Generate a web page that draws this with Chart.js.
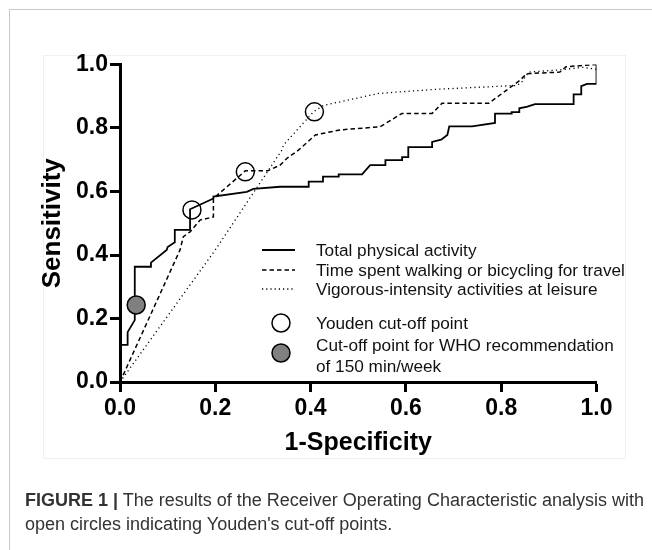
<!DOCTYPE html>
<html lang="en">

<head>
    <meta charset="UTF-8">
    <title>ROC curve</title>
    <style>
        body { margin: 0; background: #fff; font-family: "Liberation Sans", Arial, sans-serif; }
        #page { position: relative; width: 652px; height: 550px; overflow: hidden; }
        #frame { position: absolute; left: 9px; top: 9px; width: 660px; height: 560px; border-left: 1px solid #c8c8c8; border-top: 1px solid #c8c8c8; }
        #inner { position: absolute; left: 43px; top: 55px; width: 581px; height: 402px; border: 1px solid #f0f0f0; }
        #myChart01 { position: absolute; left: 0; top: 0; }
        .leg { position: absolute; left: 0; top: 0; width: 652px; height: 550px; pointer-events: none; }
        .leg .txt { position: absolute; left: 316px; font-size: 17.2px; color: #111; line-height: 20px; white-space: nowrap; }
        #caption { position: absolute; left: 25px; top: 488px; font-size: 18px; line-height: 24px; color: #333; white-space: nowrap; }
        #caption b { color: #333; }
    </style>
</head>

<body>
    <div id="page">
        <div id="frame"></div>
        <div id="inner"></div>
        <canvas id="myChart01" width="652" height="550"></canvas>
        <div class="leg">
            <svg width="652" height="550" style="position:absolute;left:0;top:0">
                <line x1="262" y1="250" x2="295" y2="250" stroke="#000" stroke-width="1.8"></line>
                <line x1="262" y1="270" x2="295" y2="270" stroke="#000" stroke-width="1.5" stroke-dasharray="4.5,3"></line>
                <line x1="262" y1="289" x2="295" y2="289" stroke="#000" stroke-width="1.3" stroke-dasharray="1.2,3"></line>
                <circle cx="281" cy="323" r="9" fill="#fff" stroke="#000" stroke-width="1.5"></circle>
                <circle cx="281" cy="353" r="9" fill="#808080" stroke="#000" stroke-width="1.5"></circle>
            </svg>
            <div class="txt" style="top:240px">Total physical activity</div>
            <div class="txt" style="top:260px">Time spent walking or bicycling for travel</div>
            <div class="txt" style="top:279px">Vigorous-intensity activities at leisure</div>
            <div class="txt" style="top:313px">Youden cut-off point</div>
            <div class="txt" style="top:335px">Cut-off point for WHO recommendation</div>
            <div class="txt" style="top:356px">of 150 min/week</div>
        </div>
        <div id="caption"><b>FIGURE 1 |</b> The results of the Receiver Operating Characteristic analysis with<br>open circles indicating Youden's cut-off points.</div>
    </div>
    <script src="https://cdn.jsdelivr.net/npm/chart.js"></script>
    <script>
        // 刻度
        var tickValues = [0, 0.2, 0.4, 0.6, 0.8, 1.0];

        // Total physical activity (實線)
        var totalX = [0, 0, 0.016, 0.016, 0.031, 0.031, 0.065, 0.065, 0.098, 0.1, 0.115, 0.115, 0.147, 0.147, 0.196, 0.196, 0.266, 0.28, 0.336, 0.396, 0.396, 0.426, 0.426, 0.459, 0.459, 0.508, 0.525, 0.557, 0.557, 0.592, 0.592, 0.605, 0.605, 0.655, 0.655, 0.674, 0.687, 0.691, 0.739, 0.787, 0.787, 0.822, 0.822, 0.838, 0.838, 0.855, 0.871, 0.952, 0.952, 0.968, 0.968, 0.98, 1.0, 1.0];
        var totalY = [0, 0.117, 0.117, 0.157, 0.195, 0.363, 0.363, 0.376, 0.416, 0.425, 0.44, 0.479, 0.479, 0.544, 0.578, 0.584, 0.599, 0.608, 0.615, 0.615, 0.631, 0.631, 0.647, 0.647, 0.654, 0.654, 0.683, 0.683, 0.699, 0.699, 0.708, 0.708, 0.74, 0.74, 0.756, 0.763, 0.778, 0.805, 0.805, 0.816, 0.845, 0.845, 0.85, 0.85, 0.862, 0.867, 0.875, 0.875, 0.906, 0.906, 0.932, 0.939, 0.939, 1.0];

        // Time spent walking or bicycling for travel (虛線)
        var walkX = [0, 0.126, 0.133, 0.147, 0.168, 0.196, 0.196, 0.263, 0.31, 0.336, 0.35, 0.375, 0.41, 0.462, 0.546, 0.592, 0.655, 0.676, 0.774, 0.84, 0.853, 0.923, 0.936, 1.0];
        var walkY = [0, 0.416, 0.458, 0.473, 0.51, 0.52, 0.578, 0.665, 0.665, 0.683, 0.704, 0.731, 0.778, 0.794, 0.804, 0.846, 0.846, 0.878, 0.878, 0.951, 0.971, 0.976, 0.993, 1.0];

        // Vigorous-intensity activities at leisure (點線)
        var vigX = [0, 0.2, 0.284, 0.34, 0.343, 0.406, 0.427, 0.543, 0.665, 0.833, 0.844, 0.857, 0.923, 0.971, 1.0];
        var vigY = [0, 0.416, 0.605, 0.731, 0.746, 0.851, 0.871, 0.909, 0.922, 0.934, 0.946, 0.976, 0.983, 0.991, 0.985];

        // Youden cut-off point
        var youdenX = [0.151, 0.263, 0.408];
        var youdenY = [0.542, 0.662, 0.851];

        // WHO 150 min/week cut-off point
        var whoX = [0.034];
        var whoY = [0.2425];

        function toPoints(xs, ys) {
            var arr = [];
            xs.forEach(function (x, key) {
                arr.push({ x: x, y: ys[key] });
            });
            return arr;
        }

        var ctx01 = document.getElementById('myChart01');
        var chart01 = new Chart(ctx01, {
            type: 'scatter',
            data: {
                datasets: [{
                    label: 'Youden cut-off point',
                    data: toPoints(youdenX, youdenY),
                    pointRadius: 9,
                    pointBackgroundColor: 'rgba(255,255,255,0)',
                    pointBorderColor: '#000',
                    pointBorderWidth: 1.5,
                    showLine: false
                }, {
                    label: 'Cut-off point for WHO recommendation of 150 min/week',
                    data: toPoints(whoX, whoY),
                    pointRadius: 9,
                    pointBackgroundColor: '#808080',
                    pointBorderColor: '#000',
                    pointBorderWidth: 1.5,
                    showLine: false
                }, {
                    label: 'Total physical activity',
                    data: toPoints(totalX, totalY),
                    showLine: true,
                    borderColor: '#000',
                    borderWidth: 1.8,
                    pointRadius: 0,
                    tension: 0
                }, {
                    label: 'Time spent walking or bicycling for travel',
                    data: toPoints(walkX, walkY),
                    showLine: true,
                    borderColor: '#000',
                    borderWidth: 1.5,
                    borderDash: [4.5, 3],
                    pointRadius: 0,
                    tension: 0
                }, {
                    label: 'Vigorous-intensity activities at leisure',
                    data: toPoints(vigX, vigY),
                    showLine: true,
                    borderColor: '#000',
                    borderWidth: 1.3,
                    borderDash: [1.2, 3.2],
                    pointRadius: 0,
                    tension: 0
                }]
            },
            options: {
                responsive: false,
                animation: false,
                devicePixelRatio: 1,
                layout: {
                    padding: { left: 0, top: 64.5, right: 55.5, bottom: 80 }
                },
                plugins: {
                    legend: { display: false },
                    tooltip: { enabled: false }
                },
                scales: {
                    x: {
                        type: 'linear',
                        min: 0,
                        max: 1,
                        afterFit: function (scale) { scale.height = 88; },
                        afterBuildTicks: function (scale) {
                            scale.ticks = tickValues.map(function (v) { return { value: v }; });
                        },
                        ticks: {
                            color: '#000',
                            padding: 3,
                            maxRotation: 0,
                            font: { family: '"Liberation Sans", Arial', size: 23, weight: 'bold' },
                            callback: function (v) { return v.toFixed(1); }
                        },
                        grid: { drawOnChartArea: false, drawTicks: true, tickLength: 10, tickWidth: 3, tickColor: '#000' },
                        border: { display: true, width: 3, color: '#000' },
                        title: {
                            display: true,
                            text: '1-Specificity',
                            color: '#000',
                            padding: { top: 0, bottom: 12 },
                            font: { family: '"Liberation Sans", Arial', size: 25, weight: 'bold' }
                        }
                    },
                    y: {
                        type: 'linear',
                        min: 0,
                        max: 1,
                        afterFit: function (scale) { scale.width = 120; },
                        afterBuildTicks: function (scale) {
                            scale.ticks = tickValues.map(function (v) { return { value: v }; });
                        },
                        ticks: {
                            color: '#000',
                            padding: 2,
                            font: { family: '"Liberation Sans", Arial', size: 23, weight: 'bold' },
                            callback: function (v) { return v.toFixed(1); }
                        },
                        grid: { drawOnChartArea: false, drawTicks: true, tickLength: 10, tickWidth: 3, tickColor: '#000' },
                        border: { display: true, width: 3, color: '#000' },
                        title: {
                            display: true,
                            text: 'Sensitivity',
                            color: '#000',
                            padding: { top: 37, bottom: 0 },
                            font: { family: '"Liberation Sans", Arial', size: 26, weight: 'bold' }
                        }
                    }
                }
            }
        });
    </script>
</body>

</html>
